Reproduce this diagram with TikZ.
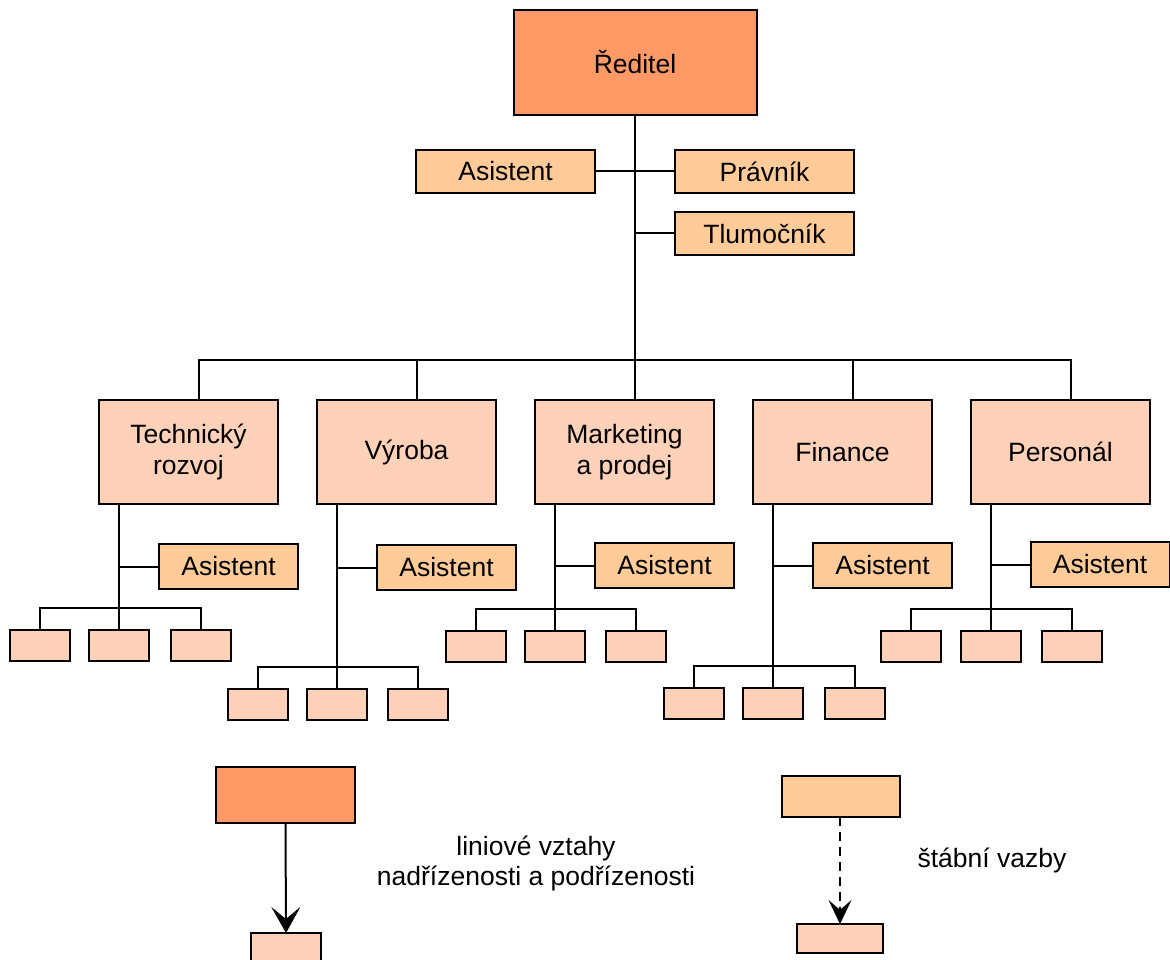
\documentclass[tikz,border=0pt]{standalone}
\usepackage{fontspec}
\setmainfont{Liberation Sans}
\usetikzlibrary{arrows.meta,calc}
\definecolor{dircol}{HTML}{FF9966}
\definecolor{staffcol}{HTML}{FFCC99}
\definecolor{deptcol}{HTML}{FFD1B8}
\begin{document}
\begin{tikzpicture}[x=1pt,y=-1pt,
  every node/.style={inner sep=0pt,outer sep=0pt},
  box/.style={draw=black,line width=2pt,rectangle,align=center,font=\fontsize{26.5}{31}\selectfont},
  dirbox/.style={box,fill=dircol,minimum width=243pt,minimum height=105pt},
  staffbox/.style={box,fill=staffcol,minimum width=179pt,minimum height=43pt},
  assbox/.style={box,fill=staffcol,minimum width=139pt,minimum height=45pt},
  deptbox/.style={box,fill=deptcol,minimum width=179pt,minimum height=104pt},
  smallbox/.style={box,fill=deptcol,minimum width=60pt,minimum height=31pt},
  conn/.style={line width=2pt},
  lbl/.style={align=center,font=\fontsize{26.5}{30}\selectfont}
]
\useasboundingbox (0,0) rectangle (1170,960);
\clip (0,0) rectangle (1170,960);

% top level
\node[dirbox] (dir) at (635,62.5) {Ředitel};
\node[staffbox] (asst0) at (505.5,171.5) {Asistent};
\node[staffbox] (prav) at (764.5,171.5) {Právník};
\node[staffbox] (tlum) at (764.5,233.5) {Tlumočník};

% departments
\node[deptbox] (tech) at (188.5,452) {Technický\\rozvoj};
\node[deptbox] (vyr)  at (406.5,452) {Výroba};
\node[deptbox] (mkt)  at (624.5,452) {Marketing\\a prodej};
\node[deptbox] (fin)  at (842.5,452) {Finance};
\node[deptbox] (pers) at (1060.5,452) {Personál};

% connectors top
\draw[conn] (dir.south) -- ([xshift=10.5pt]mkt.north);
\draw[conn] (asst0.east) -- (asst0.east -| dir.south);
\draw[conn] (prav.west) -- (prav.west -| dir.south);
\draw[conn] (tlum.west) -- (tlum.west -| dir.south);
\draw[conn] ([xshift=10.5pt]tech.north) -- ++(0,-40) -| ([xshift=10.5pt]pers.north);
\draw[conn] ([xshift=10.5pt]vyr.north) -- ++(0,-40);
\draw[conn] ([xshift=10.5pt]fin.north) -- ++(0,-40);

% department assistants
\node[assbox] (ta) at (228.5,566.5) {Asistent};
\node[assbox] (va) at (446.5,567.5) {Asistent};
\node[assbox] (ma) at (664.5,565.5) {Asistent};
\node[assbox] (fa) at (882.5,565.5) {Asistent};
\node[assbox] (pa) at (1100,564.5) {Asistent};

% small boxes: top row
\node[smallbox] (t1) at (40,645.5) {};
\node[smallbox] (t2) at (119,645.5) {};
\node[smallbox] (t3) at (201,645.5) {};
\node[smallbox] (m1) at (475.5,646.5) {};
\node[smallbox] (m2) at (555,646.5) {};
\node[smallbox] (m3) at (635.5,646.5) {};
\node[smallbox] (p1) at (910.5,646.5) {};
\node[smallbox] (p2) at (991,646.5) {};
\node[smallbox] (p3) at (1071.5,646.5) {};
% small boxes: bottom row
\node[smallbox] (v1) at (257.5,704) {};
\node[smallbox] (v2) at (337,704) {};
\node[smallbox] (v3) at (417.5,704) {};
\node[smallbox] (f1) at (693.5,703.5) {};
\node[smallbox] (f2) at (773,703.5) {};
\node[smallbox] (f3) at (854.5,703.5) {};

% department sub-trees
\foreach \d/\a/\s in {tech/ta/t, vyr/va/v, mkt/ma/m, fin/fa/f, pers/pa/p}{
  \draw[conn] ([xshift=-69.5pt]\d.south) -- (\s2.north);
  \draw[conn] (\a.west) -- (\a.west -| \s2.north);
  \draw[conn] (\s1.north) -- ++(0,-22) -| (\s3.north);
}

% legend
\node[box,fill=dircol,minimum width=139pt,minimum height=56pt] (legdir) at (285.5,795) {};
\node[box,fill=deptcol,minimum width=70pt,minimum height=34pt] (legsub) at (286,950) {};
\draw[conn,-{Stealth[length=26pt,width=29pt,inset=12pt]}] (legdir.south) -- (legsub.north);
\node[lbl] (ltxt) at (536,863) {liniové vztahy\\nadřízenosti a podřízenosti};

\node[box,fill=staffcol,minimum width=118pt,minimum height=41pt] (legstaff) at (841,796.5) {};
\node[box,fill=deptcol,minimum width=86pt,minimum height=29pt] (legsub2) at (840,938.5) {};
\draw[conn,dash pattern=on 9pt off 6pt,-{Stealth[length=24pt,width=23pt,inset=10pt]}] (legstaff.south -| legsub2.north) -- (legsub2.north);
\node[lbl] (stxt) at (992,860) {štábní vazby};
\end{tikzpicture}
\end{document}
